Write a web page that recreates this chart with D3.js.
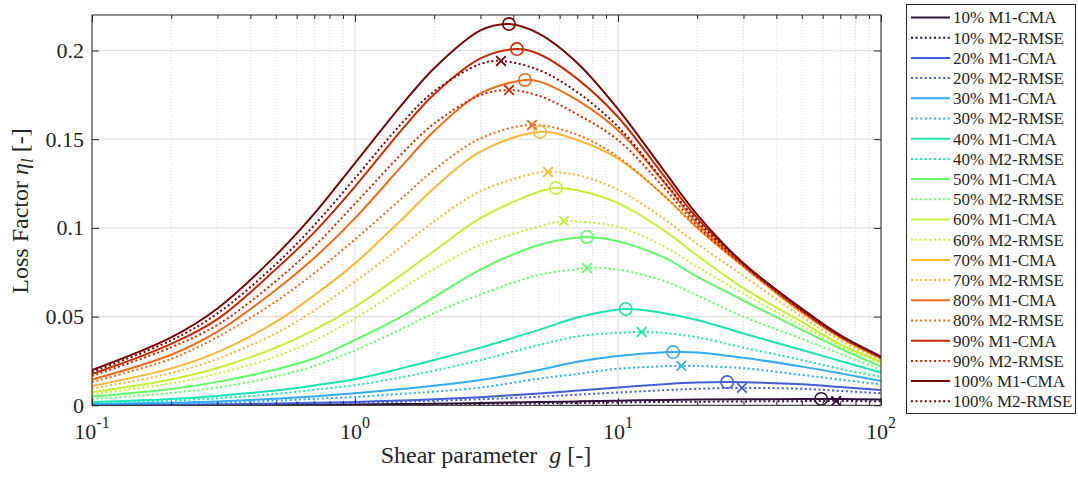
<!DOCTYPE html>
<html>
<head>
<meta charset="utf-8">
<script src="https://cdn.jsdelivr.net/npm/d3@7/dist/d3.min.js"></script>
<style>
  body { margin: 0; background: #fff; }
  svg { font-family: "Liberation Serif", "Times New Roman", serif; }
</style>
</head>
<body>
<svg id="chart" width="1078" height="480"></svg>
<script>
const gValues = [0.1, 0.2, 0.3, 0.5, 0.7, 1, 1.5, 2, 3, 5, 7, 10, 15, 20, 30, 50, 70, 100];

const levels = ['10%', '20%', '30%', '40%', '50%', '60%', '70%', '80%', '90%', '100%'];
const colors = ['#30123b', '#4560d6', '#35abf8', '#1be5b5', '#62fc6b',
                '#c4f135', '#fbb938', '#f66b19', '#cb2a04', '#7a0403'];

// M1-CMA loss factor per level
const cma10  = [0.00005, 0.0001, 0.00015, 0.00025, 0.00035, 0.0005, 0.0007, 0.0009, 0.0013, 0.0018, 0.0022, 0.0026, 0.0030, 0.0032, 0.0034, 0.00355, 0.00357, 0.0033];
const cma20  = [0.0002, 0.0004, 0.0006, 0.0010, 0.0014, 0.0019, 0.0027, 0.0034, 0.0046, 0.0067, 0.0083, 0.0101, 0.0119, 0.0128, 0.0130, 0.0118, 0.0103, 0.0086];
const cma30  = [0.0008, 0.0015, 0.0022, 0.0037, 0.0050, 0.0068, 0.0092, 0.0110, 0.0142, 0.0199, 0.0245, 0.0278, 0.0299, 0.0298, 0.0268, 0.0218, 0.0180, 0.0137];
const cma40  = [0.0019, 0.0036, 0.0053, 0.0083, 0.0112, 0.0147, 0.0208, 0.0255, 0.0325, 0.0425, 0.0495, 0.0541, 0.0519, 0.0481, 0.0405, 0.0312, 0.0250, 0.0184];
const cma50  = [0.0049, 0.0092, 0.0132, 0.0202, 0.0265, 0.0368, 0.0500, 0.0610, 0.0765, 0.0904, 0.0945, 0.0925, 0.0832, 0.0725, 0.0590, 0.0425, 0.0320, 0.0218];
const cma60  = [0.0075, 0.0146, 0.0210, 0.0325, 0.0425, 0.0555, 0.0735, 0.0870, 0.1055, 0.1204, 0.1212, 0.1140, 0.0985, 0.0845, 0.0660, 0.0470, 0.0345, 0.0246];
const cma70  = [0.0109, 0.0208, 0.0300, 0.0470, 0.0620, 0.0800, 0.1045, 0.1225, 0.1430, 0.1538, 0.1495, 0.1390, 0.1180, 0.1000, 0.0780, 0.0520, 0.0380, 0.0262];
const cma80  = [0.0145, 0.0285, 0.0415, 0.0650, 0.0830, 0.1055, 0.1345, 0.1546, 0.1758, 0.1826, 0.1720, 0.1550, 0.1255, 0.1025, 0.0790, 0.0535, 0.0390, 0.0270];
const cma90  = [0.0176, 0.0346, 0.0486, 0.0767, 0.0975, 0.1233, 0.1550, 0.1753, 0.1955, 0.1980, 0.1840, 0.1625, 0.1290, 0.1055, 0.0800, 0.0540, 0.0390, 0.0273];
const cma100 = [0.0199, 0.0383, 0.0546, 0.0845, 0.1080, 0.1365, 0.1690, 0.1900, 0.2113, 0.2095, 0.1930, 0.1670, 0.1320, 0.1075, 0.0800, 0.0545, 0.0395, 0.0275];

// M2-RMSE loss factor per level
const rmse10  = [0.00003, 0.00006, 0.00009, 0.00015, 0.0002, 0.0003, 0.0004, 0.0005, 0.0008, 0.0011, 0.0013, 0.0016, 0.0019, 0.0020, 0.0022, 0.00235, 0.0024, 0.0023];
const rmse20  = [0.00015, 0.0003, 0.00045, 0.0007, 0.0010, 0.0014, 0.0020, 0.0025, 0.0034, 0.0048, 0.0060, 0.0072, 0.0085, 0.0093, 0.0098, 0.0093, 0.0081, 0.0068];
const rmse30  = [0.0006, 0.0011, 0.0016, 0.0026, 0.0036, 0.0047, 0.0065, 0.0077, 0.0100, 0.0150, 0.0177, 0.0206, 0.0220, 0.0221, 0.0209, 0.0171, 0.0145, 0.0118];
const rmse40  = [0.0014, 0.0027, 0.0040, 0.0064, 0.0087, 0.0114, 0.0158, 0.0195, 0.0255, 0.0340, 0.0388, 0.0409, 0.0408, 0.0383, 0.0325, 0.0255, 0.0205, 0.0161];
const rmse50  = [0.0036, 0.0069, 0.0100, 0.0162, 0.0222, 0.0310, 0.0430, 0.0520, 0.0625, 0.0735, 0.0768, 0.0765, 0.0700, 0.0620, 0.0500, 0.0375, 0.0290, 0.0200];
const rmse60  = [0.0063, 0.0124, 0.0178, 0.0275, 0.0365, 0.0490, 0.0655, 0.0770, 0.0904, 0.1007, 0.1036, 0.1007, 0.0894, 0.0780, 0.0630, 0.0450, 0.0335, 0.0238];
const rmse70  = [0.0094, 0.0182, 0.0262, 0.0406, 0.0534, 0.0697, 0.0894, 0.1037, 0.1207, 0.1313, 0.1298, 0.1215, 0.1050, 0.0910, 0.0730, 0.0500, 0.0365, 0.0255];
const rmse80  = [0.0132, 0.0262, 0.0385, 0.0585, 0.0745, 0.0935, 0.1164, 0.1327, 0.1504, 0.1579, 0.1525, 0.1400, 0.1180, 0.1000, 0.0785, 0.0525, 0.0385, 0.0265];
const rmse90  = [0.0165, 0.0327, 0.0453, 0.0700, 0.0895, 0.1136, 0.1415, 0.1588, 0.1748, 0.1745, 0.1640, 0.1495, 0.1225, 0.1010, 0.0785, 0.0530, 0.0385, 0.0268];
const rmse100 = [0.0188, 0.0366, 0.0518, 0.0795, 0.1015, 0.1280, 0.1587, 0.1770, 0.1924, 0.1890, 0.1765, 0.1570, 0.1260, 0.1040, 0.0795, 0.0535, 0.0390, 0.0270];

// optimum (peak) of every curve
const peakCmaG    = [59.2, 26.0, 16.2, 10.7, 7.62, 5.81, 5.05, 4.43, 4.13, 3.85];
const peakCmaEta  = [0.0036, 0.0131, 0.0300, 0.0543, 0.0949, 0.1225, 0.1541, 0.1834, 0.2008, 0.2149];
const peakRmseG   = [67.5, 29.6, 17.4, 12.3, 7.62, 6.23, 5.42, 4.71, 3.85, 3.59];
const peakRmseEta = [0.0024, 0.0098, 0.0222, 0.0413, 0.0774, 0.1039, 0.1315, 0.1580, 0.1777, 0.1941];

const cmaValues  = [cma10, cma20, cma30, cma40, cma50, cma60, cma70, cma80, cma90, cma100];
const rmseValues = [rmse10, rmse20, rmse30, rmse40, rmse50, rmse60, rmse70, rmse80, rmse90, rmse100];

const series = [];
levels.forEach((lv, i) => {
  series.push({ label: `${lv} M1-CMA`, color: colors[i], dotted: false,
    values: cmaValues[i], peak: [peakCmaG[i], peakCmaEta[i]] });
  series.push({ label: `${lv} M2-RMSE`, color: colors[i], dotted: true,
    values: rmseValues[i], peak: [peakRmseG[i], peakRmseEta[i]] });
});

const svg = d3.select('#chart');
const plotLeft = 92, plotRight = 881, plotTop = 15, plotBottom = 405.3;

const x = d3.scaleLog().domain([0.1, 100]).range([plotLeft, plotRight]);
const y = d3.scaleLinear().domain([0, 0.22]).range([plotBottom, plotTop]);

const axisColor = '#262626';
const dotDash = '2,2.6';

// grid
const minorG = [];
[0.1, 1, 10].forEach(d => { for (let k = 2; k <= 9; k++) minorG.push(d * k); });
const majorG = [0.1, 1, 10, 100];
const yTicks = [0, 0.05, 0.1, 0.15, 0.2];

const grid = svg.append('g');
grid.selectAll('.minor').data(minorG).join('line')
  .attr('x1', d => x(d)).attr('x2', d => x(d))
  .attr('y1', plotTop).attr('y2', plotBottom)
  .style('stroke', '#cfcfcf').style('stroke-width', 0.8).style('stroke-dasharray', '1,2');
grid.selectAll('.major').data(majorG).join('line')
  .attr('x1', d => x(d)).attr('x2', d => x(d))
  .attr('y1', plotTop).attr('y2', plotBottom)
  .style('stroke', '#e2e2e2').style('stroke-width', 1.2);
grid.selectAll('.ymajor').data(yTicks).join('line')
  .attr('x1', plotLeft).attr('x2', plotRight)
  .attr('y1', d => y(d)).attr('y2', d => y(d))
  .style('stroke', '#e2e2e2').style('stroke-width', 1.2);

// curves
svg.append('clipPath').attr('id', 'plotClip')
  .append('rect').attr('x', plotLeft).attr('y', plotTop)
  .attr('width', plotRight - plotLeft).attr('height', plotBottom - plotTop);

const line = d3.line()
  .x(d => x(d[0]))
  .y(d => y(d[1]))
  .curve(d3.curveCatmullRom.alpha(0.5));

const plot = svg.append('g').attr('clip-path', 'url(#plotClip)');

series.forEach(s => {
  const pts = gValues.map((g, i) => [g, s.values[i]])
    .filter(p => Math.abs(Math.log10(p[0] / s.peak[0])) > 0.03);
  pts.push(s.peak);
  pts.sort((a, b) => a[0] - b[0]);
  plot.append('path')
    .datum(pts)
    .attr('d', line)
    .style('fill', 'none')
    .style('stroke', s.color)
    .style('stroke-width', 2)
    .style('stroke-dasharray', s.dotted ? dotDash : null);
});

// optimum markers
series.forEach(s => {
  const px = x(s.peak[0]), py = y(s.peak[1]);
  if (!s.dotted) {
    plot.append('circle').attr('cx', px).attr('cy', py).attr('r', 6.2)
      .style('fill', 'none').style('stroke', s.color).style('stroke-width', 1.6);
  } else {
    const r = 4.8;
    plot.append('path')
      .attr('d', `M${px - r},${py - r}L${px + r},${py + r}M${px - r},${py + r}L${px + r},${py - r}`)
      .style('fill', 'none').style('stroke', s.color).style('stroke-width', 1.8);
  }
});

// axes (ticks inside, MATLAB style box)
function styleAxis(g) {
  g.selectAll('.domain').remove();
  g.selectAll('line').style('stroke', axisColor);
  g.attr('font-family', null).attr('font-size', null);
}

svg.append('g').attr('transform', `translate(0,${plotBottom})`)
  .call(d3.axisBottom(x).tickValues(majorG).tickSize(-7).tickFormat(''))
  .call(styleAxis);
svg.append('g').attr('transform', `translate(0,${plotBottom})`)
  .call(d3.axisBottom(x).tickValues(minorG).tickSize(-4).tickFormat(''))
  .call(styleAxis);
svg.append('g').attr('transform', `translate(0,${plotTop})`)
  .call(d3.axisTop(x).tickValues(majorG).tickSize(-7).tickFormat(''))
  .call(styleAxis);
svg.append('g').attr('transform', `translate(0,${plotTop})`)
  .call(d3.axisTop(x).tickValues(minorG).tickSize(-4).tickFormat(''))
  .call(styleAxis);

const yAxis = svg.append('g').attr('transform', `translate(${plotLeft},0)`)
  .call(d3.axisLeft(y).tickValues(yTicks).tickSize(-7).tickPadding(8)
    .tickFormat(d => d === 0 ? '0' : String(d)))
  .call(styleAxis);
yAxis.selectAll('text').style('font-size', '22px').style('fill', axisColor);

svg.append('g').attr('transform', `translate(${plotRight},0)`)
  .call(d3.axisRight(y).tickValues(yTicks).tickSize(-7).tickFormat(''))
  .call(styleAxis);

svg.append('rect')
  .attr('x', plotLeft).attr('y', plotTop)
  .attr('width', plotRight - plotLeft).attr('height', plotBottom - plotTop)
  .style('fill', 'none').style('stroke', axisColor).style('stroke-width', 1);

// x tick labels 10^n
const xLabels = svg.append('g');
majorG.forEach(d => {
  const t = xLabels.append('text')
    .attr('x', x(d)).attr('y', 439)
    .attr('text-anchor', 'middle')
    .style('fill', axisColor);
  t.append('tspan').text('10').style('font-size', '22px');
  t.append('tspan').text(String(Math.round(Math.log10(d))))
    .attr('dy', -11).style('font-size', '16px');
});

// axis titles
const xt = svg.append('text')
  .attr('x', 486).attr('y', 463)
  .attr('text-anchor', 'middle')
  .style('font-size', '24px').style('fill', axisColor);
xt.append('tspan').text('Shear parameter\u00a0\u00a0');
xt.append('tspan').text('g').style('font-style', 'italic');
xt.append('tspan').text(' [-]');

const yt = svg.append('text')
  .attr('transform', 'translate(28,211) rotate(-90)')
  .attr('text-anchor', 'middle')
  .style('font-size', '24px').style('fill', axisColor);
yt.append('tspan').text('Loss Factor ');
yt.append('tspan').text('\u03b7').style('font-style', 'italic');
yt.append('tspan').text('l').style('font-style', 'italic').style('font-size', '17px').attr('dy', 5);
yt.append('tspan').text(' [-]').attr('dy', -5);

// legend
const legend = svg.append('g');
legend.append('rect')
  .attr('x', 906.5).attr('y', 4.5).attr('width', 169).attr('height', 409)
  .style('fill', '#fff').style('stroke', axisColor).style('stroke-width', 1);

series.forEach((s, i) => {
  const ry = 17.5 + i * 20.2;
  legend.append('line')
    .attr('x1', 911).attr('x2', 950).attr('y1', ry).attr('y2', ry)
    .style('stroke', s.color).style('stroke-width', 2)
    .style('stroke-dasharray', s.dotted ? dotDash : null);
  legend.append('text')
    .attr('x', 953).attr('y', ry + 5.8)
    .style('font-size', '17px').style('fill', axisColor)
    .text(s.label);
});
</script>
</body>
</html>
